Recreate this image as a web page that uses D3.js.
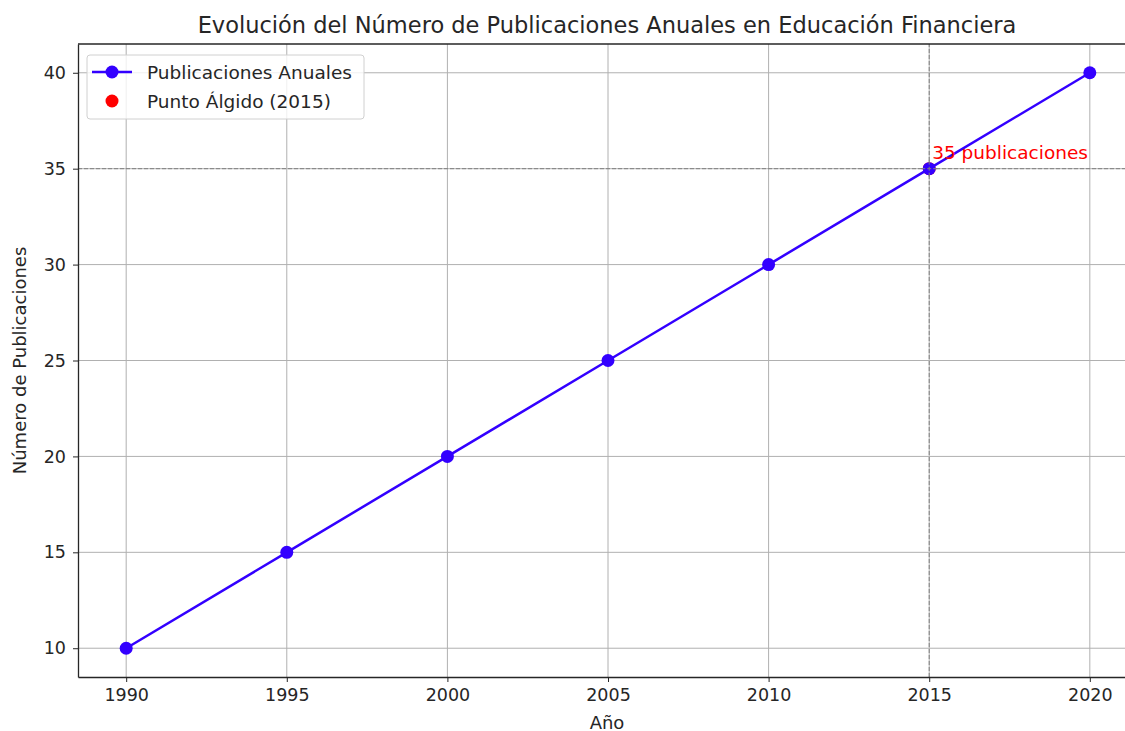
<!DOCTYPE html>
<html>
<head>
<meta charset="utf-8">
<title>Publicaciones Anuales</title>
<style>
  body { margin: 0; background: #fff; }
  svg text { font-family: "DejaVu Sans", sans-serif; fill: #262626; }
  .grid line { stroke: #b0b0b0; stroke-width: 1; }
  .axis path, .axis line { stroke: #262626; }
</style>
</head>
<body>
<div id="chart"></div>
<script src="https://d3js.org/d3.v7.min.js"></script>
<script>
// Data
const years = [1990, 1995, 2000, 2005, 2010, 2015, 2020];
const publications = [10, 15, 20, 25, 30, 35, 40];
const peakYear = 2015;
const peakValue = 35;
const yTicks = [10, 15, 20, 25, 30, 35, 40];

const width = 1125, height = 731;
const margin = { top: 44, right: -13, bottom: 54, left: 78 };
const lineColor = "#3300ff";

const svg = d3.select("#chart").append("svg")
  .attr("width", width).attr("height", height);

const x = d3.scaleLinear().domain([1988.5, 2021.5])
  .range([margin.left, width - margin.right]);
const y = d3.scaleLinear().domain([8.5, 41.5])
  .range([height - margin.bottom, margin.top]);

// grid
const grid = svg.append("g").attr("class", "grid");
grid.selectAll(".vx").data(years).enter().append("line")
  .attr("x1", d => x(d)).attr("x2", d => x(d))
  .attr("y1", y.range()[0]).attr("y2", y.range()[1]);
grid.selectAll(".hy").data(yTicks).enter().append("line")
  .attr("y1", d => y(d)).attr("y2", d => y(d))
  .attr("x1", x.range()[0]).attr("x2", x.range()[1]);

// reference lines at the peak
function dashed(x1, x2, y1, y2) {
  svg.append("line")
    .attr("x1", x1).attr("x2", x2).attr("y1", y1).attr("y2", y2)
    .attr("stroke", "#808080").attr("stroke-width", 1).attr("stroke-dasharray", "4,2");
}
dashed(x.range()[0], x.range()[1], y(peakValue), y(peakValue));
dashed(x(peakYear), x(peakYear), y.range()[0], y.range()[1]);

// peak point (drawn under the line)
svg.append("circle")
  .attr("cx", x(peakYear)).attr("cy", y(peakValue)).attr("r", 6.5)
  .attr("fill", "red");

// series
const pts = years.map((d, i) => [d, publications[i]]);
svg.append("path")
  .datum(pts)
  .attr("fill", "none").attr("stroke", lineColor).attr("stroke-width", 2.5)
  .attr("d", d3.line().x(d => x(d[0])).y(d => y(d[1])));
svg.selectAll(".pt").data(pts).enter().append("circle")
  .attr("cx", d => x(d[0])).attr("cy", d => y(d[1])).attr("r", 6.5)
  .attr("fill", lineColor);

// dashed lines cross over the 2015 marker
dashed(x(peakYear) - 8, x(peakYear) + 8, y(peakValue), y(peakValue));
dashed(x(peakYear), x(peakYear), y(peakValue) - 8, y(peakValue) + 8);

// annotation
svg.append("text")
  .attr("x", x(peakYear) + 3).attr("y", y(peakValue) - 10)
  .attr("font-size", 18.5).style("fill", "red")
  .text(`${peakValue} publicaciones`);

// axes
svg.append("g").attr("class", "axis")
  .attr("transform", `translate(0,${y.range()[0]})`)
  .call(d3.axisBottom(x).tickValues(years).tickFormat(d3.format("d"))
    .tickSize(5).tickSizeOuter(0).tickPadding(7))
  .call(g => g.attr("font-size", 17.5).attr("font-family", "DejaVu Sans"))
  .call(g => g.select(".domain").attr("stroke-width", 1.3));
svg.append("g").attr("class", "axis")
  .attr("transform", `translate(${x.range()[0]},0)`)
  .call(d3.axisLeft(y).tickValues(yTicks).tickSize(5).tickSizeOuter(0).tickPadding(7))
  .call(g => g.attr("font-size", 17.5).attr("font-family", "DejaVu Sans"))
  .call(g => g.select(".domain").attr("stroke-width", 1.3));
svg.append("line")
  .attr("x1", x.range()[0]).attr("x2", x.range()[1])
  .attr("y1", y.range()[1]).attr("y2", y.range()[1])
  .attr("stroke", "#262626").attr("stroke-width", 1.3);

// labels
svg.append("text")
  .attr("x", 607).attr("y", 33)
  .attr("text-anchor", "middle").attr("font-size", 22.5)
  .text("Evolución del Número de Publicaciones Anuales en Educación Financiera");
svg.append("text")
  .attr("x", 607).attr("y", 729)
  .attr("text-anchor", "middle").attr("font-size", 18)
  .text("Año");
svg.append("text")
  .attr("transform", `translate(26,${(y.range()[0] + y.range()[1]) / 2}) rotate(-90)`)
  .attr("text-anchor", "middle").attr("font-size", 18)
  .text("Número de Publicaciones");

// legend
const lg = svg.append("g").attr("transform", "translate(87,55)");
lg.append("rect").attr("width", 277).attr("height", 64).attr("rx", 3)
  .attr("fill", "white").attr("fill-opacity", 0.8)
  .attr("stroke", "#d0d0d0");
lg.append("line").attr("x1", 5).attr("x2", 45).attr("y1", 17).attr("y2", 17)
  .attr("stroke", lineColor).attr("stroke-width", 2.5);
lg.append("circle").attr("cx", 25).attr("cy", 17).attr("r", 6.5).attr("fill", lineColor);
lg.append("circle").attr("cx", 25).attr("cy", 46).attr("r", 6.5).attr("fill", "red");
lg.append("text").attr("x", 60).attr("y", 23.5).attr("font-size", 18.5).text("Publicaciones Anuales");
lg.append("text").attr("x", 60).attr("y", 52.5).attr("font-size", 18.5).text("Punto Álgido (2015)");
</script>
</body>
</html>
